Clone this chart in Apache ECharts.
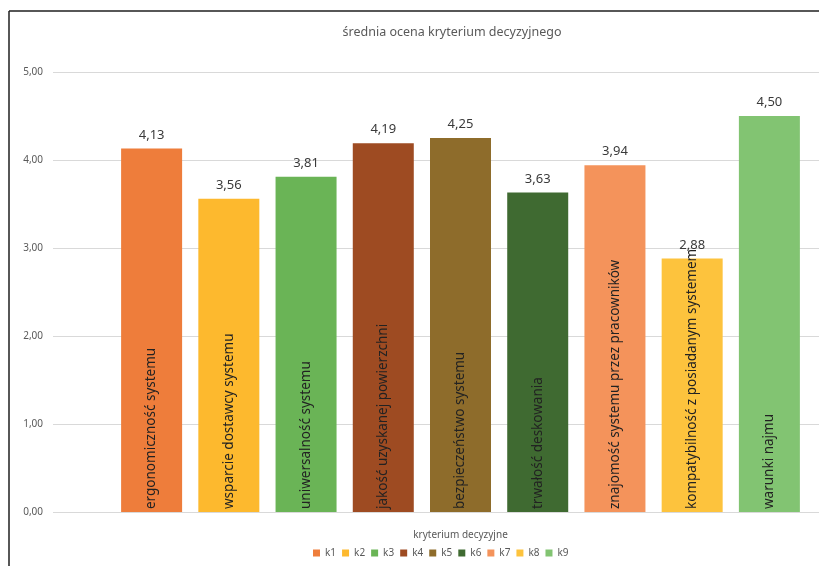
<!DOCTYPE html>
<html>
<head>
<meta charset="utf-8">
<script src="https://cdn.jsdelivr.net/npm/echarts@6/dist/echarts.min.js"></script>
<style>
  html, body { margin: 0; padding: 0; background: #fff; }
  #chart { width: 819px; height: 566px; }
</style>
</head>
<body>
<div id="chart"></div>
<script>
    var seriesNames = ['k1', 'k2', 'k3', 'k4', 'k5', 'k6', 'k7', 'k8', 'k9'];
    var criteria = [
        'ergonomiczność systemu',
        'wsparcie dostawcy systemu',
        'uniwersalność systemu',
        'jakość uzyskanej powierzchni',
        'bezpieczeństwo systemu',
        'trwałość deskowania',
        'znajomość systemu przez pracowników',
        'kompatybilność z posiadanym systemem',
        'warunki najmu'
    ];
    var values = [4.13, 3.56, 3.81, 4.19, 4.25, 3.63, 3.94, 2.88, 4.50];
    var yTicks = [0, 1, 2, 3, 4, 5];
    var colors = ['#EE7D3B', '#FDB92E', '#6AB456', '#9E4B22', '#8E6C2B', '#3F6A31', '#F4935B', '#FDC33D', '#82C472'];

    var font = 'Noto Sans';
    var fmt = function (v) { return Number(v).toFixed(2).replace('.', ','); };

    // each series only holds its own bar, bars overlap so every one sits centred in its category
    var series = seriesNames.map(function (name, i) {
        var data = values.map(function (v, j) { return j === i ? v : null; });
        return {
            name: name,
            type: 'bar',
            xAxisIndex: 1,
            yAxisIndex: 1,
            barWidth: 61,
            barGap: '-100%',
            data: data,
            itemStyle: { color: colors[i] },
            label: {
                show: true,
                position: 'top',
                distance: 7,
                color: '#3a3a3a',
                fontFamily: font,
                fontSize: 13,
                formatter: function (p) { return fmt(p.value); }
            }
        };
    });

    var myChart = echarts.init(document.getElementById('chart'));
    var option = {
        animation: false,
        title: {
            text: 'średnia ocena kryterium decyzyjnego',
            left: 447,
            textAlign: 'center',
            top: 21,
            textStyle: { color: '#595959', fontFamily: font, fontSize: 12.5, fontWeight: 'normal' }
        },
        legend: {
            data: seriesNames,
            left: 308,
            top: 543,
            itemWidth: 7,
            itemHeight: 7,
            itemGap: 6,
            icon: 'rect',
            textStyle: { color: '#595959', fontFamily: font, fontSize: 10 }
        },
        graphic: [
            { type: 'line', shape: { x1: 9, y1: 11, x2: 9, y2: 566 }, style: { stroke: '#1f1f1f', lineWidth: 1.5 } },
            { type: 'line', shape: { x1: 9, y1: 11, x2: 819, y2: 11 }, style: { stroke: '#1f1f1f', lineWidth: 1.5 } }
        ],
        grid: [
            { left: 53, right: 0, top: 72, bottom: 54 },
            { left: 113, width: 695, top: 72, bottom: 54 }
        ],
        xAxis: [
            { gridIndex: 0, type: 'value', show: false },
            {
                gridIndex: 1,
                type: 'category',
                data: criteria,
                z: 10,
                name: 'kryterium decyzyjne',
                nameLocation: 'middle',
                nameGap: 18,
                nameTextStyle: { color: '#595959', fontFamily: font, fontSize: 10 },
                axisLine: { show: false },
                axisTick: { show: false },
                axisLabel: {
                    inside: true,
                    rotate: 90,
                    interval: 0,
                    margin: 3,
                    color: '#222222',
                    fontFamily: font,
                    fontSize: 13.5
                }
            }
        ],
        yAxis: [
            {
                gridIndex: 0,
                type: 'value',
                min: yTicks[0],
                max: yTicks[yTicks.length - 1],
                interval: 1,
                axisLine: { show: false },
                axisTick: { show: false },
                axisLabel: { margin: 10, color: '#595959', fontFamily: font, fontSize: 10, formatter: fmt },
                splitLine: { lineStyle: { color: '#d9d9d9', width: 1 } }
            },
            {
                gridIndex: 1,
                type: 'value',
                min: yTicks[0],
                max: yTicks[yTicks.length - 1],
                interval: 1,
                show: false,
                splitLine: { show: false }
            }
        ],
        series: series
    };
    myChart.setOption(option);
</script>
</body>
</html>
